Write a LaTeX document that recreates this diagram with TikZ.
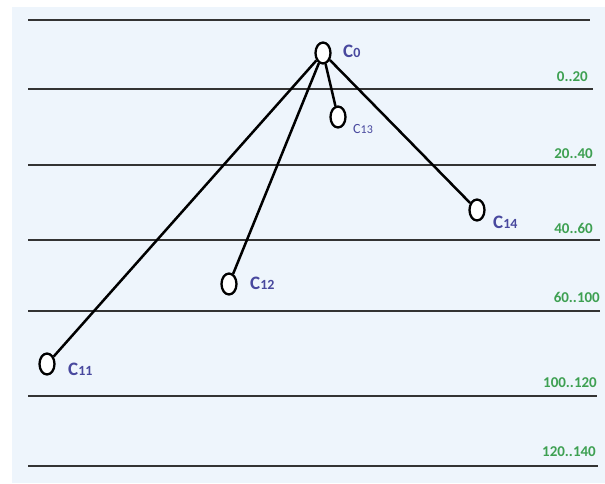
\documentclass[tikz,border=0pt]{standalone}
\usepackage{fontspec}
\setmainfont{Carlito}
\usetikzlibrary{shapes.geometric}

\definecolor{bgblue}{RGB}{238,245,252}
\definecolor{levelgreen}{RGB}{62,160,82}
\definecolor{nodeblue}{RGB}{72,72,158}

\newcommand{\cname}[1]{{\fontsize{19}{19}\selectfont C}{\fontsize{14}{14}\selectfont #1}}

\begin{document}
\begin{tikzpicture}[x=1pt,y=-1pt,
  cnode/.style={draw, ellipse, line width=2.3pt, fill=white,
    minimum width=15pt, minimum height=21pt, inner sep=0pt},
  levelline/.style={draw=black!80, line width=1.2pt},
  rangelbl/.style={text=levelgreen, font=\bfseries\fontsize{15}{16}\selectfont,
    anchor=east, inner sep=0pt},
  treeedge/.style={line width=2.5pt},
  lbl/.style={text=nodeblue, font=\bfseries, anchor=base west, inner sep=0pt}]

\useasboundingbox (0,0) rectangle (605,483);
\fill[bgblue] (12,7) rectangle (605,483);

% Levels
\foreach \y/\x in {20/590, 89/593, 165/596, 240/600, 311/600, 396/597, 466/598}
  \draw[levelline] (28,\y) -- (\x,\y);

\foreach \y/\x/\t in {77/588/{0..20}, 154/593/{20..40}, 228/593/{40..60},
    297/600/{60..100}, 383/597/{100..120}, 452/596/{120..140}}
  \node[rangelbl] at (\x,\y) {\t};

% Tree
\node[cnode] (c0) at (323,53) {};
\node[cnode] (c13) at (338,117) {};
\node[cnode] (c14) at (477,210) {};
\node[cnode] (c12) at (229,284) {};
\node[cnode] (c11) at (47,364) {};

\node[lbl] (c0lbl) at (343,57) {\cname{0}};
\node[lbl, font=\fontsize{10}{10}\selectfont] (c13lbl) at (353,133)
  {{\fontsize{14}{14}\selectfont C}{\fontsize{12}{12}\selectfont 13}};
\node[lbl] (c14lbl) at (493,228) {\cname{14}};
\node[lbl] (c12lbl) at (250,289) {\cname{12}};
\node[lbl] (c11lbl) at (68,375) {\cname{11}};

\draw[treeedge] (c0) -- (c11);
\draw[treeedge] (c0) -- (c12);
\draw[treeedge] (c0) -- (c13);
\draw[treeedge] (c0) -- (c14);

\end{tikzpicture}
\end{document}
